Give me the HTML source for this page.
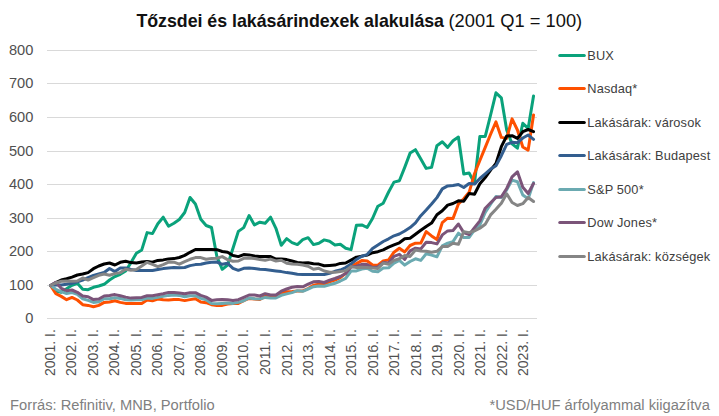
<!DOCTYPE html><html lang="hu"><head><meta charset="utf-8"><title>chart</title><style>
html,body{margin:0;padding:0;background:#fff;}
body{width:719px;height:416px;overflow:hidden;position:relative;font-family:"Liberation Sans",sans-serif;}
svg{position:absolute;left:0;top:0;}
text{font-family:"Liberation Sans",sans-serif;}
</style></head><body>
<svg width="719" height="416" viewBox="0 0 719 416">
<rect width="719" height="416" fill="#ffffff"/>
<rect x="47.0" y="318" width="490.0" height="1" fill="#d9d9d9"/>
<rect x="47.0" y="285" width="490.0" height="1" fill="#d9d9d9"/>
<rect x="47.0" y="251" width="490.0" height="1" fill="#d9d9d9"/>
<rect x="47.0" y="218" width="490.0" height="1" fill="#d9d9d9"/>
<rect x="47.0" y="184" width="490.0" height="1" fill="#d9d9d9"/>
<rect x="47.0" y="151" width="490.0" height="1" fill="#d9d9d9"/>
<rect x="47.0" y="117" width="490.0" height="1" fill="#d9d9d9"/>
<rect x="47.0" y="83" width="490.0" height="1" fill="#d9d9d9"/>
<rect x="47.0" y="50" width="490.0" height="1" fill="#d9d9d9"/>
<text transform="translate(33.3,322.90) scale(0.955,1)" font-size="15.3" fill="#505050" text-anchor="end">0</text>
<text transform="translate(33.3,289.90) scale(0.955,1)" font-size="15.3" fill="#505050" text-anchor="end">100</text>
<text transform="translate(33.3,255.90) scale(0.955,1)" font-size="15.3" fill="#505050" text-anchor="end">200</text>
<text transform="translate(33.3,222.90) scale(0.955,1)" font-size="15.3" fill="#505050" text-anchor="end">300</text>
<text transform="translate(33.3,188.90) scale(0.955,1)" font-size="15.3" fill="#505050" text-anchor="end">400</text>
<text transform="translate(33.3,155.90) scale(0.955,1)" font-size="15.3" fill="#505050" text-anchor="end">500</text>
<text transform="translate(33.3,121.90) scale(0.955,1)" font-size="15.3" fill="#505050" text-anchor="end">600</text>
<text transform="translate(33.3,87.90) scale(0.955,1)" font-size="15.3" fill="#505050" text-anchor="end">700</text>
<text transform="translate(33.3,54.90) scale(0.955,1)" font-size="15.3" fill="#505050" text-anchor="end">800</text>
<text transform="translate(54.90,329.2) rotate(-90) scale(0.906,1)" font-size="15.5" fill="#505050" text-anchor="end">2001. I.</text>
<text transform="translate(76.41,329.2) rotate(-90) scale(0.906,1)" font-size="15.5" fill="#505050" text-anchor="end">2002. I.</text>
<text transform="translate(97.92,329.2) rotate(-90) scale(0.906,1)" font-size="15.5" fill="#505050" text-anchor="end">2003. I.</text>
<text transform="translate(119.43,329.2) rotate(-90) scale(0.906,1)" font-size="15.5" fill="#505050" text-anchor="end">2004. I.</text>
<text transform="translate(140.94,329.2) rotate(-90) scale(0.906,1)" font-size="15.5" fill="#505050" text-anchor="end">2005. I.</text>
<text transform="translate(162.45,329.2) rotate(-90) scale(0.906,1)" font-size="15.5" fill="#505050" text-anchor="end">2006. I.</text>
<text transform="translate(183.96,329.2) rotate(-90) scale(0.906,1)" font-size="15.5" fill="#505050" text-anchor="end">2007. I.</text>
<text transform="translate(205.47,329.2) rotate(-90) scale(0.906,1)" font-size="15.5" fill="#505050" text-anchor="end">2008. I.</text>
<text transform="translate(226.98,329.2) rotate(-90) scale(0.906,1)" font-size="15.5" fill="#505050" text-anchor="end">2009. I.</text>
<text transform="translate(248.49,329.2) rotate(-90) scale(0.906,1)" font-size="15.5" fill="#505050" text-anchor="end">2010. I.</text>
<text transform="translate(270.00,329.2) rotate(-90) scale(0.906,1)" font-size="15.5" fill="#505050" text-anchor="end">2011. I.</text>
<text transform="translate(291.51,329.2) rotate(-90) scale(0.906,1)" font-size="15.5" fill="#505050" text-anchor="end">2012. I.</text>
<text transform="translate(313.02,329.2) rotate(-90) scale(0.906,1)" font-size="15.5" fill="#505050" text-anchor="end">2013. I.</text>
<text transform="translate(334.53,329.2) rotate(-90) scale(0.906,1)" font-size="15.5" fill="#505050" text-anchor="end">2014. I.</text>
<text transform="translate(356.04,329.2) rotate(-90) scale(0.906,1)" font-size="15.5" fill="#505050" text-anchor="end">2015. I.</text>
<text transform="translate(377.55,329.2) rotate(-90) scale(0.906,1)" font-size="15.5" fill="#505050" text-anchor="end">2016. I.</text>
<text transform="translate(399.06,329.2) rotate(-90) scale(0.906,1)" font-size="15.5" fill="#505050" text-anchor="end">2017. I.</text>
<text transform="translate(420.57,329.2) rotate(-90) scale(0.906,1)" font-size="15.5" fill="#505050" text-anchor="end">2018. I.</text>
<text transform="translate(442.08,329.2) rotate(-90) scale(0.906,1)" font-size="15.5" fill="#505050" text-anchor="end">2019. I.</text>
<text transform="translate(463.59,329.2) rotate(-90) scale(0.906,1)" font-size="15.5" fill="#505050" text-anchor="end">2020. I.</text>
<text transform="translate(485.10,329.2) rotate(-90) scale(0.906,1)" font-size="15.5" fill="#505050" text-anchor="end">2021. I.</text>
<text transform="translate(506.61,329.2) rotate(-90) scale(0.906,1)" font-size="15.5" fill="#505050" text-anchor="end">2022. I.</text>
<text transform="translate(528.12,329.2) rotate(-90) scale(0.906,1)" font-size="15.5" fill="#505050" text-anchor="end">2023. I.</text>
<polyline fill="none" stroke="#0aa27b" stroke-width="3.0" stroke-linejoin="round" stroke-linecap="round" points="50.50,285.50 55.87,291.00 61.23,292.20 66.60,288.70 71.97,285.30 77.34,283.30 82.70,289.30 88.07,289.70 93.44,287.30 98.80,286.00 104.17,284.30 109.54,280.00 114.90,276.60 120.27,274.30 125.64,271.00 131.00,262.60 136.37,253.30 141.74,249.90 147.11,232.60 152.47,233.60 157.84,223.70 163.21,217.20 168.57,226.20 173.94,223.20 179.31,219.50 184.68,212.50 190.04,197.50 195.41,204.00 200.78,219.20 206.14,225.50 211.51,227.50 216.88,256.60 222.24,269.30 227.61,265.00 232.98,248.30 238.34,231.40 243.71,227.60 249.08,215.50 254.45,224.90 259.81,222.20 265.18,223.20 270.55,217.20 275.91,228.30 281.28,245.30 286.65,238.60 292.01,242.60 297.38,244.60 302.75,239.60 308.12,237.70 313.48,244.60 318.85,243.20 324.22,239.90 329.58,241.20 334.95,244.90 340.32,244.30 345.69,248.30 351.05,249.60 356.42,225.20 361.79,224.90 367.15,227.50 372.52,218.50 377.89,206.20 383.25,203.20 388.62,192.00 393.99,182.10 399.36,180.80 404.72,167.40 410.09,153.10 415.46,149.70 420.82,159.10 426.19,168.40 431.56,167.40 436.92,145.70 442.29,141.70 447.66,147.40 453.02,140.70 458.39,137.00 463.76,174.00 469.13,173.00 474.49,183.00 479.86,136.40 485.23,136.40 490.59,115.00 495.96,92.80 501.33,97.80 506.69,130.00 512.06,143.90 517.43,148.20 522.80,123.30 528.16,128.40 533.53,96.00"/>
<polyline fill="none" stroke="#fe5000" stroke-width="3.0" stroke-linejoin="round" stroke-linecap="round" points="50.50,285.50 55.87,293.70 61.23,296.40 66.60,299.70 71.97,297.40 77.34,300.00 82.70,304.70 88.07,305.40 93.44,306.70 98.80,305.40 104.17,302.40 109.54,302.00 114.90,300.70 120.27,302.40 125.64,303.40 131.00,303.40 136.37,303.40 141.74,303.40 147.11,300.00 152.47,300.70 157.84,299.00 163.21,299.70 168.57,300.00 173.94,299.60 179.31,299.60 184.68,300.60 190.04,299.60 195.41,298.70 200.78,302.00 206.14,302.70 211.51,304.70 216.88,305.40 222.24,305.40 227.61,304.00 232.98,303.40 238.34,303.40 243.71,300.70 249.08,298.40 254.45,299.00 259.81,299.40 265.18,296.40 270.55,296.70 275.91,296.70 281.28,293.30 286.65,291.70 292.01,291.50 297.38,290.90 302.75,290.90 308.12,288.50 313.48,285.30 318.85,284.30 324.22,284.30 329.58,281.70 334.95,280.00 340.32,277.70 345.69,273.30 351.05,266.60 356.42,263.60 361.79,260.60 367.15,260.90 372.52,265.00 377.89,265.20 383.25,260.90 388.62,259.90 393.99,252.20 399.36,248.20 404.72,251.90 410.09,245.50 415.46,243.20 420.82,243.10 426.19,231.60 431.56,235.90 436.92,239.60 442.29,222.60 447.66,218.20 453.02,218.50 458.39,203.90 463.76,198.80 469.13,192.30 474.49,173.70 479.86,160.50 485.23,147.40 490.59,134.30 495.96,121.90 501.33,137.40 506.69,138.40 512.06,118.90 517.43,130.00 522.80,147.00 528.16,150.10 533.53,114.90"/>
<polyline fill="none" stroke="#000000" stroke-width="3.0" stroke-linejoin="round" stroke-linecap="round" points="50.50,285.50 55.87,282.70 61.23,280.00 66.60,278.70 71.97,277.10 77.34,275.00 82.70,274.00 88.07,272.60 93.44,268.70 98.80,266.00 104.17,264.00 109.54,263.00 114.90,265.00 120.27,262.30 125.64,261.30 131.00,262.60 136.37,263.00 141.74,262.00 147.11,261.60 152.47,262.20 157.84,260.40 163.21,259.90 168.57,258.90 173.94,258.60 179.31,257.50 184.68,255.40 190.04,252.30 195.41,249.50 200.78,249.60 206.14,249.60 211.51,249.60 216.88,249.70 222.24,251.50 227.61,252.30 232.98,255.50 238.34,256.60 243.71,254.60 249.08,254.90 254.45,255.90 259.81,256.60 265.18,256.60 270.55,256.60 275.91,259.10 281.28,259.10 286.65,259.60 292.01,261.00 297.38,262.40 302.75,263.10 308.12,262.80 313.48,263.80 318.85,264.10 324.22,265.80 329.58,265.40 334.95,265.10 340.32,263.40 345.69,263.00 351.05,260.10 356.42,257.10 361.79,256.10 367.15,255.10 372.52,252.70 377.89,251.70 383.25,249.90 388.62,247.20 393.99,244.90 399.36,242.80 404.72,238.80 410.09,238.20 415.46,234.20 420.82,230.20 426.19,226.50 431.56,223.10 436.92,214.70 442.29,210.70 447.66,205.10 453.02,203.50 458.39,200.80 463.76,201.20 469.13,193.50 474.49,194.20 479.86,183.80 485.23,177.50 490.59,170.10 495.96,163.40 501.33,146.70 506.69,136.00 512.06,135.70 517.43,138.40 522.80,131.70 528.16,129.50 533.53,131.70"/>
<polyline fill="none" stroke="#335e8f" stroke-width="3.0" stroke-linejoin="round" stroke-linecap="round" points="50.50,285.50 55.87,285.00 61.23,285.00 66.60,284.30 71.97,283.30 77.34,281.80 82.70,280.00 88.07,277.70 93.44,275.50 98.80,274.00 104.17,272.50 109.54,268.50 114.90,271.60 120.27,268.10 125.64,268.00 131.00,269.40 136.37,270.50 141.74,270.50 147.11,270.50 152.47,270.50 157.84,269.60 163.21,268.60 168.57,268.00 173.94,267.60 179.31,267.80 184.68,267.50 190.04,265.60 195.41,264.60 200.78,264.30 206.14,263.00 211.51,262.30 216.88,262.00 222.24,264.30 227.61,263.30 232.98,268.30 238.34,270.30 243.71,268.30 249.08,268.00 254.45,268.60 259.81,269.30 265.18,269.60 270.55,270.30 275.91,271.00 281.28,271.60 286.65,272.60 292.01,273.30 297.38,274.30 302.75,274.60 308.12,274.60 313.48,274.60 318.85,274.60 324.22,274.60 329.58,273.30 334.95,271.30 340.32,270.00 345.69,267.60 351.05,263.90 356.42,259.50 361.79,256.30 367.15,254.60 372.52,248.50 377.89,244.90 383.25,241.50 388.62,238.80 393.99,235.80 399.36,234.00 404.72,231.00 410.09,227.60 415.46,222.90 420.82,215.70 426.19,210.00 431.56,204.00 436.92,197.60 442.29,188.90 447.66,185.90 453.02,185.50 458.39,184.50 463.76,187.50 469.13,183.50 474.49,184.10 479.86,178.50 485.23,173.80 490.59,169.10 495.96,165.80 501.33,155.70 506.69,144.40 512.06,142.30 517.43,142.70 522.80,138.00 528.16,135.00 533.53,139.30"/>
<polyline fill="none" stroke="#6baab1" stroke-width="3.0" stroke-linejoin="round" stroke-linecap="round" points="50.50,285.50 55.87,289.30 61.23,291.60 66.60,293.60 71.97,292.60 77.34,294.30 82.70,298.80 88.07,300.40 93.44,302.40 98.80,301.80 104.17,298.70 109.54,298.70 114.90,297.70 120.27,298.40 125.64,299.70 131.00,300.00 136.37,299.70 141.74,299.70 147.11,298.00 152.47,298.40 157.84,297.40 163.21,296.40 168.57,295.40 173.94,295.10 179.31,295.40 184.68,296.80 190.04,295.80 195.41,295.70 200.78,298.40 206.14,299.70 211.51,303.40 216.88,303.70 222.24,303.40 227.61,303.00 232.98,303.40 238.34,302.40 243.71,300.70 249.08,298.00 254.45,298.70 259.81,299.00 265.18,297.40 270.55,298.00 275.91,298.00 281.28,295.30 286.65,293.90 292.01,292.60 297.38,290.70 302.75,291.30 308.12,289.00 313.48,286.70 318.85,286.00 324.22,286.30 329.58,284.70 334.95,283.30 340.32,281.00 345.69,278.30 351.05,271.00 356.42,270.90 361.79,269.00 367.15,268.30 372.52,271.30 377.89,271.80 383.25,268.10 388.62,267.80 393.99,263.10 399.36,260.40 404.72,265.10 410.09,261.50 415.46,258.80 420.82,260.40 426.19,253.80 431.56,255.10 436.92,256.80 442.29,245.90 447.66,243.20 453.02,241.60 458.39,233.20 463.76,237.60 469.13,237.40 474.49,229.90 479.86,224.90 485.23,212.50 490.59,204.20 495.96,196.50 501.33,197.50 506.69,189.80 512.06,180.10 517.43,181.80 522.80,195.00 528.16,198.70 533.53,182.60"/>
<polyline fill="none" stroke="#7b5479" stroke-width="3.0" stroke-linejoin="round" stroke-linecap="round" points="50.50,285.50 55.87,282.20 61.23,288.30 66.60,290.70 71.97,290.00 77.34,292.30 82.70,296.00 88.07,296.70 93.44,299.60 98.80,299.00 104.17,296.00 109.54,295.40 114.90,294.60 120.27,295.70 125.64,297.10 131.00,298.10 136.37,297.70 141.74,297.40 147.11,295.70 152.47,295.70 157.84,294.70 163.21,293.70 168.57,292.40 173.94,292.40 179.31,293.00 184.68,293.70 190.04,292.70 195.41,292.70 200.78,295.40 206.14,297.10 211.51,300.40 216.88,299.70 222.24,299.40 227.61,299.70 232.98,300.40 238.34,299.70 243.71,297.40 249.08,295.00 254.45,295.00 259.81,296.00 265.18,293.70 270.55,295.00 275.91,295.00 281.28,291.20 286.65,289.00 292.01,287.30 297.38,286.50 302.75,286.80 308.12,284.20 313.48,281.80 318.85,281.50 324.22,282.50 329.58,280.20 334.95,278.50 340.32,276.50 345.69,273.50 351.05,266.90 356.42,266.20 361.79,264.30 367.15,264.60 372.52,267.60 377.89,267.00 383.25,262.60 388.62,263.00 393.99,256.30 399.36,254.30 404.72,259.40 410.09,250.90 415.46,248.20 420.82,248.90 426.19,242.20 431.56,242.60 436.92,243.90 442.29,234.90 447.66,230.90 453.02,230.50 458.39,224.00 463.76,232.60 469.13,234.60 474.49,227.60 479.86,220.90 485.23,208.20 490.59,202.80 495.96,197.50 501.33,196.80 506.69,188.50 512.06,176.80 517.43,171.80 522.80,187.30 528.16,193.50 533.53,183.50"/>
<polyline fill="none" stroke="#858585" stroke-width="3.0" stroke-linejoin="round" stroke-linecap="round" points="50.50,285.50 55.87,283.00 61.23,281.30 66.60,281.00 71.97,281.30 77.34,281.00 82.70,278.00 88.07,280.00 93.44,277.70 98.80,275.30 104.17,274.00 109.54,275.30 114.90,273.60 120.27,272.60 125.64,269.30 131.00,270.30 136.37,269.60 141.74,266.00 147.11,262.30 152.47,264.30 157.84,266.60 163.21,264.60 168.57,262.20 173.94,262.20 179.31,264.20 184.68,261.60 190.04,259.30 195.41,257.60 200.78,257.60 206.14,259.30 211.51,258.60 216.88,258.30 222.24,256.60 227.61,259.60 232.98,261.30 238.34,261.00 243.71,258.30 249.08,257.90 254.45,258.60 259.81,259.60 265.18,260.30 270.55,259.10 275.91,261.00 281.28,260.30 286.65,263.20 292.01,263.90 297.38,264.30 302.75,265.00 308.12,266.30 313.48,269.30 318.85,268.30 324.22,271.00 329.58,272.30 334.95,272.30 340.32,271.60 345.69,270.60 351.05,266.60 356.42,267.60 361.79,267.20 367.15,267.60 372.52,268.00 377.89,268.40 383.25,263.10 388.62,264.20 393.99,260.40 399.36,258.70 404.72,255.60 410.09,256.40 415.46,250.00 420.82,250.90 426.19,251.30 431.56,252.30 436.92,251.30 442.29,246.60 447.66,246.50 453.02,243.20 458.39,244.30 463.76,231.60 469.13,232.60 474.49,230.90 479.86,228.20 485.23,224.20 490.59,214.90 495.96,209.20 501.33,203.20 506.69,193.80 512.06,202.50 517.43,205.50 522.80,203.70 528.16,197.50 533.53,201.50"/>
<line x1="559.75" y1="55.50" x2="584.3" y2="55.50" stroke="#0aa27b" stroke-width="3.0" stroke-linecap="round"/>
<text x="587.3" y="59.90" font-size="12.8" letter-spacing="0.15" fill="#404040">BUX</text>
<line x1="559.75" y1="88.50" x2="584.3" y2="88.50" stroke="#fe5000" stroke-width="3.0" stroke-linecap="round"/>
<text x="587.3" y="93.40" font-size="12.8" letter-spacing="0.15" fill="#404040">Nasdaq*</text>
<line x1="559.75" y1="122.50" x2="584.3" y2="122.50" stroke="#000000" stroke-width="3.0" stroke-linecap="round"/>
<text x="587.3" y="126.90" font-size="12.8" letter-spacing="0.15" fill="#404040">Lakásárak: városok</text>
<line x1="559.75" y1="155.50" x2="584.3" y2="155.50" stroke="#335e8f" stroke-width="3.0" stroke-linecap="round"/>
<text x="587.3" y="160.40" font-size="12.8" letter-spacing="0.15" fill="#404040">Lakásárak: Budapest</text>
<line x1="559.75" y1="189.50" x2="584.3" y2="189.50" stroke="#6baab1" stroke-width="3.0" stroke-linecap="round"/>
<text x="587.3" y="193.90" font-size="12.8" letter-spacing="0.15" fill="#404040">S&amp;P 500*</text>
<line x1="559.75" y1="222.50" x2="584.3" y2="222.50" stroke="#7b5479" stroke-width="3.0" stroke-linecap="round"/>
<text x="587.3" y="227.40" font-size="12.8" letter-spacing="0.15" fill="#404040">Dow Jones*</text>
<line x1="559.75" y1="256.50" x2="584.3" y2="256.50" stroke="#858585" stroke-width="3.0" stroke-linecap="round"/>
<text x="587.3" y="260.90" font-size="12.8" letter-spacing="0.15" fill="#404040">Lakásárak: községek</text>
<text x="136.4" y="27.3" font-size="17.8" font-weight="bold" fill="#111111" textLength="307.6" lengthAdjust="spacing">Tőzsdei és lakásárindexek alakulása</text>
<text x="448.5" y="27.3" font-size="18.3" fill="#111111">(2001 Q1 = 100)</text>
<text x="10.1" y="410.3" font-size="14.7" fill="#808080">Forrás: Refinitiv, MNB, Portfolio</text>
<text x="709.9" y="410.3" font-size="14.7" fill="#808080" text-anchor="end">*USD/HUF árfolyammal kiigazítva</text>
</svg></body></html>
